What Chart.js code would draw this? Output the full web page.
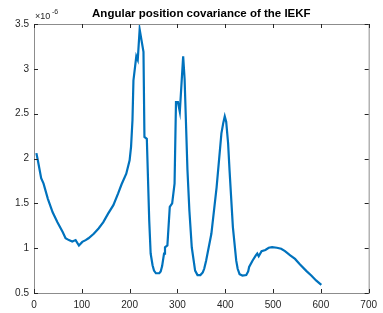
<!DOCTYPE html>
<html>
<head>
<meta charset="utf-8">
<script src="https://cdn.jsdelivr.net/npm/chart.js@4"></script>
<style>
  body { margin: 0; background: #fff; }
</style>
</head>
<body>
<canvas id="chart" width="383" height="313"></canvas>
<script>
// sample index and covariance (in units of 1e-6)
const sampleIdx = [5, 8, 15, 20, 29, 39, 49, 60, 66, 73, 80, 87, 94, 101, 108, 114, 125, 135, 145, 155, 166, 176, 183, 193, 200, 203, 206, 208, 214, 217, 221, 229, 231, 236, 241, 244, 248, 251, 255, 262, 265, 268, 272, 274, 279, 284, 289, 294, 297, 301, 305, 312, 315, 321, 325, 330, 334, 337, 342, 348, 353, 356, 360, 371, 382, 392, 396, 399, 402, 406, 409, 416, 423, 426, 430, 436, 444, 448, 450, 457, 464, 467, 470, 476, 484, 491, 498, 508, 517, 525, 536, 546, 556, 570, 580, 590, 601]
const covariance = [2.06, 1.98, 1.78, 1.72, 1.55, 1.40, 1.29, 1.18, 1.11, 1.09, 1.075, 1.09, 1.03, 1.07, 1.09, 1.11, 1.16, 1.22, 1.29, 1.385, 1.48, 1.61, 1.71, 1.83, 1.98, 2.13, 2.43, 2.87, 3.14, 3.10, 3.44, 3.19, 2.24, 2.22, 1.31, 0.94, 0.81, 0.75, 0.72, 0.72, 0.74, 0.80, 0.94, 1.01, 1.03, 1.46, 1.50, 1.72, 2.63, 2.63, 2.52, 3.14, 2.89, 1.87, 1.42, 1.01, 0.86, 0.75, 0.70, 0.70, 0.73, 0.77, 0.86, 1.16, 1.68, 2.28, 2.40, 2.47, 2.41, 2.17, 1.87, 1.235, 0.86, 0.77, 0.71, 0.695, 0.70, 0.74, 0.79, 0.86, 0.92, 0.94, 0.91, 0.967, 0.98, 1.005, 1.012, 1.005, 0.994, 0.967, 0.92, 0.88, 0.82, 0.744, 0.695, 0.64, 0.59]
const xTicks = [0, 100, 200, 300, 400, 500, 600, 700]
const yTicks = [0.5, 1, 1.5, 2, 2.5, 3, 3.5]
const titleText = "Angular position covariance of the IEKF"

const axisColor = "#262626"
const fontFam = "'Liberation Sans', Arial, sans-serif"

// matlab style box, inward ticks, title and exponent label
const matlabAxes = {
    id: "matlabAxes",
    afterDraw(chart) {
        const ctx = chart.ctx
        const a = chart.chartArea
        const xs = chart.scales.x
        const ys = chart.scales.y
        ctx.save()
        ctx.strokeStyle = "#8c8c8c"
        ctx.lineWidth = 1
        ctx.strokeRect(a.left + 0.5, a.top + 0.5, a.right - a.left, a.bottom - a.top)
        ctx.strokeStyle = axisColor
        ctx.beginPath()
        xTicks.forEach(v => {
            const px = Math.round(xs.getPixelForValue(v)) + 0.5
            ctx.moveTo(px, a.bottom); ctx.lineTo(px, a.bottom - 4)
            ctx.moveTo(px, a.top); ctx.lineTo(px, a.top + 4)
        })
        yTicks.forEach(v => {
            const py = Math.round(ys.getPixelForValue(v)) + 0.5
            ctx.moveTo(a.left, py); ctx.lineTo(a.left + 4, py)
            ctx.moveTo(a.right, py); ctx.lineTo(a.right - 4, py)
        })
        ctx.stroke()

        ctx.fillStyle = "#000"
        ctx.font = "bold 11.5px " + fontFam
        ctx.textAlign = "center"
        ctx.textBaseline = "alphabetic"
        ctx.fillText(titleText, (a.left + a.right) / 2, 17)

        ctx.fillStyle = axisColor
        ctx.textAlign = "left"
        ctx.font = "9px " + fontFam
        ctx.fillText("\u00d710", a.left + 1, 19)
        ctx.font = "7px " + fontFam
        ctx.fillText("-6", a.left + 18, 14)
        ctx.restore()
    }
}

new Chart(document.getElementById("chart"), {
    type: "line",
    data: {
        datasets: [{
            data: sampleIdx.map((x, i) => ({x: x, y: covariance[i]})),
            borderColor: "#0072BD",
            borderWidth: 2.2,
            pointRadius: 0,
            tension: 0,
            fill: false
        }]
    },
    options: {
        responsive: false,
        animation: false,
        devicePixelRatio: 1,
        layout: { padding: { top: 24, right: 8, left: 0, bottom: 0 } },
        plugins: { legend: { display: false }, title: { display: false }, tooltip: { enabled: false } },
        scales: {
            x: {
                type: "linear",
                min: 0, max: 700,
                grid: { display: false, drawTicks: false },
                border: { display: false },
                afterFit: s => { s.height = 20 },
                afterBuildTicks: s => { s.ticks = xTicks.map(v => ({value: v})) },
                ticks: { padding: 6, color: axisColor, font: { family: fontFam, size: 10 }, maxRotation: 0,
                         callback: v => String(v) }
            },
            y: {
                min: 0.5, max: 3.5,
                grid: { display: false, drawTicks: false },
                border: { display: false },
                afterFit: s => { s.width = 34 },
                afterBuildTicks: s => { s.ticks = yTicks.map(v => ({value: v})) },
                ticks: { padding: 5, color: axisColor, font: { family: fontFam, size: 10 },
                         callback: v => String(v) }
            }
        }
    },
    plugins: [matlabAxes]
})
</script>
</body>
</html>
